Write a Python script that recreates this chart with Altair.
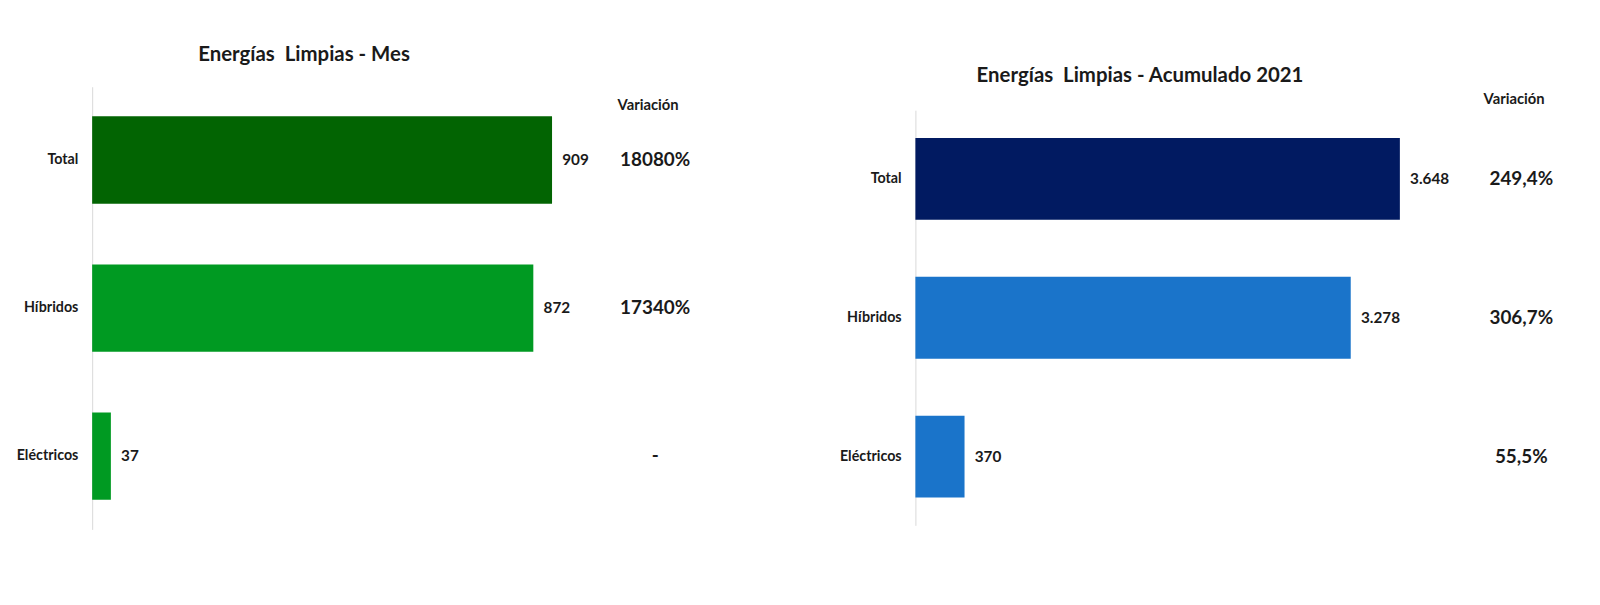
import altair as alt
import pandas as pd

categories = ["Total", "Híbridos", "Eléctricos"]

mes_values = [909, 872, 37]
mes_labels = ["909", "872", "37"]
mes_variation = ["18080%", "17340%", "-"]
mes_colors = ["#026402", "#009A22", "#009A22"]

acum_values = [3648, 3278, 370]
acum_labels = ["3.648", "3.278", "370"]
acum_variation = ["249,4%", "306,7%", "55,5%"]
acum_colors = ["#011A61", "#1A74CA", "#1A74CA"]

FONT = "Lato"
TXT = "#1a1a1a"
K = 1.02  # compensates the slight downscale of the page photo


def s(v):
    return round(v * K, 2)


def panel(values, labels, variation, colors, title, title_dx, title_offset,
          xmax, width, height, yrange, var_x, head_x, head_y):
    df = pd.DataFrame({
        "cat": categories,
        "value": values,
        "label": labels,
        "var": variation,
        "color": colors,
    })
    y = alt.Y("cat:N", sort=categories, title=None,
              scale=alt.Scale(paddingInner=0.41, paddingOuter=0.2,
                              range=[s(yrange[0]), s(yrange[1])]),
              axis=alt.Axis(ticks=False, labelPadding=s(14), labelFont=FONT,
                            labelFontSize=s(14), labelFontWeight="bold",
                            labelColor=TXT, domainColor="#d9d9d9",
                            domainWidth=1, grid=False))
    x = alt.X("value:Q", title=None, scale=alt.Scale(domain=[0, xmax]), axis=None)
    base = alt.Chart(df)
    bars = base.mark_bar().encode(x=x, y=y, color=alt.Color("color:N", scale=None))
    vals = base.mark_text(align="left", baseline="middle", dx=s(10), font=FONT,
                          fontSize=s(15), fontWeight="bold", color=TXT).encode(
        x=x, y=y, text="label:N")
    var = base.mark_text(align="center", baseline="middle", font=FONT,
                         fontSize=s(18.5), fontWeight="bold", color=TXT).encode(
        x=alt.value(s(var_x)), y=y, text="var:N")
    head = alt.Chart(pd.DataFrame({"t": ["Variación"]})).mark_text(
        align="center", baseline="middle", font=FONT, fontSize=s(14.5),
        fontWeight="bold", color=TXT).encode(
        x=alt.value(s(head_x)), y=alt.value(s(head_y)), text="t:N")
    return alt.layer(bars, vals, var, head).properties(
        width=s(width), height=s(height),
        title=alt.TitleParams(title, anchor="start", frame="group", dx=s(title_dx),
                              font=FONT, fontSize=s(20), fontWeight="bold",
                              color=TXT, offset=s(title_offset)),
    )


left = panel(mes_values, mes_labels, mes_variation, mes_colors,
             "Energías\u00a0 Limpias - Mes", 104, 21,
             1250, 620, 434, [0, 434], 552, 545, 19)
right = panel(acum_values, acum_labels, acum_variation, acum_colors,
              "Energías\u00a0 Limpias - Acumulado 2021", 60, 0,
              4854, 632, 430, [23, 430], 594, 587, 13)

chart = alt.hconcat(left, right, spacing=s(112)).properties(
    padding={"left": s(8), "top": s(36), "right": 5, "bottom": 5},
    background="white",
).configure_view(stroke=None)

chart.save("out.html", embed_options={"renderer": "svg", "actions": False})
